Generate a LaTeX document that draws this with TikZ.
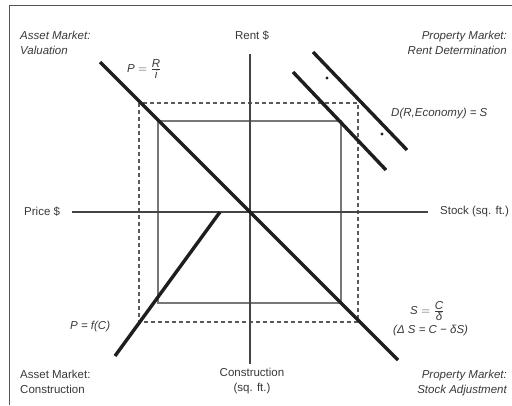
\documentclass[tikz,border=0pt]{standalone}
\usepackage{fontspec}
\setmainfont{Liberation Sans}
\definecolor{txt}{HTML}{383838}
\definecolor{ln}{HTML}{1E1E1E}
\definecolor{axc}{HTML}{444444}
\definecolor{boxc}{HTML}{777777}
\definecolor{dashc}{HTML}{5A5A5A}
\definecolor{framec}{HTML}{555555}
\begin{document}
\begin{tikzpicture}[x=1pt,y=-1pt,
  lbl/.style={font=\fontsize{11.5}{15}\selectfont, text=txt, inner sep=0pt},
  ilbl/.style={font=\fontsize{11.5}{15}\selectfont\itshape, text=txt, inner sep=0pt},
  curve/.style={line width=3.4pt, color=ln},
  axisline/.style={line width=1.3pt, color=axc},
  solidbox/.style={line width=1.3pt, color=boxc},
  dashbox/.style={line width=1.1pt, color=dashc, dash pattern=on 4pt off 3pt},
  shiftdot/.style={fill=ln, draw=none}
]
\useasboundingbox (0,0) rectangle (512,405);
% frame
\draw[framec, line width=1pt] (9,405) -- (9,5) -- (512,5);
% coordinates
\coordinate (O) at (250,212);
\coordinate (ax1) at (72,212);
\coordinate (ax2) at (428,212);
\coordinate (ay1) at (250,54);
\coordinate (ay2) at (250,364);
\coordinate (v1) at (100,62);
\coordinate (v2) at (398,360);
\coordinate (c1) at (220,212);
\coordinate (c2) at (115,356);
\coordinate (dA1) at (313,52);
\coordinate (dA2) at (407,150);
\coordinate (dB1) at (293,72);
\coordinate (dB2) at (386,170);
% boxes
\draw[dashbox] (139,103) rectangle (358,322);
\draw[solidbox] (158,121) rectangle (341,303);
% axes
\draw[axisline] (ax1) -- (ax2);
\draw[axisline] (ay1) -- (ay2);
% curves
\draw[curve] (v1) -- (v2);
\draw[curve] (c1) -- (c2);
\draw[curve] (dA1) -- (dA2);
\draw[curve] (dB1) -- (dB2);
\fill[shiftdot] (327,78) circle (1.6);
\fill[shiftdot] (382,134) circle (1.6);
% labels
\node[ilbl, anchor=north west, align=left] (val) at (20,31) {Asset Market:\\Valuation};
\node[lbl, anchor=north] (rent) at (252,31) {Rent \$};
\node[ilbl, anchor=north east, align=right] (rentdet) at (507,31) {Property Market:\\Rent Determination};
\node[ilbl, anchor=west] (pri) at (127,69) {$\textit{P} = \frac{\textit{R}}{\textit{i}}$};
\node[ilbl, anchor=west] (dem) at (391,114) {D(R,Economy) = S};
\node[lbl, anchor=west] (price) at (24,212) {Price \$};
\node[lbl, anchor=west] (stock) at (440,212) {Stock (sq. ft.)};
\node[ilbl, anchor=west] (pfc) at (70,327) {P = f(C)};
\node[ilbl, anchor=west] (scd) at (410,311) {$\textit{S} = \frac{\textit{C}}{\textit{δ}}$};
\node[ilbl, anchor=west] (dsc) at (393,331) {(Δ S = C − δS)};
\node[lbl, anchor=north west, align=left] (constr) at (20,370) {Asset Market:\\Construction};
\node[lbl, anchor=north, align=center] (constrax) at (252,368) {Construction\\(sq. ft.)};
\node[ilbl, anchor=north east, align=right] (stockadj) at (507,370) {Property Market:\\Stock Adjustment};
\end{tikzpicture}
\end{document}
